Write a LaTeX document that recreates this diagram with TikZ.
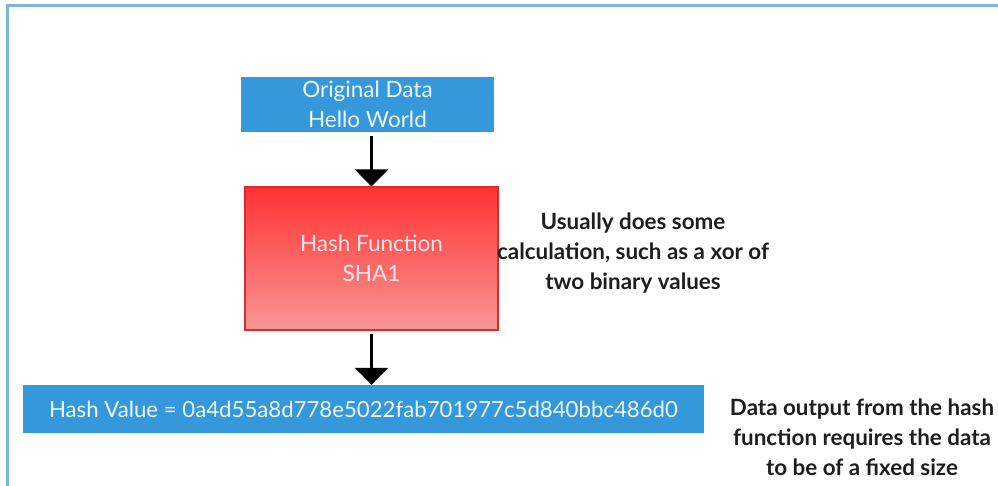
\documentclass[tikz,border=0pt]{standalone}
\usepackage{fontspec}
\setmainfont{Lato}
\usetikzlibrary{arrows.meta}

\definecolor{boxblue}{RGB}{52,152,219}
\definecolor{frameblue}{RGB}{126,179,218}
\definecolor{hashtop}{RGB}{255,50,50}
\definecolor{hashbot}{RGB}{248,150,150}
\definecolor{hashline}{RGB}{214,45,45}
\definecolor{notegray}{RGB}{30,30,30}

\begin{document}
\begin{tikzpicture}
  [x=1pt, y=-1pt,
   font=\fontsize{22.5}{30}\selectfont,
   bluebox/.style={rectangle, fill=boxblue, text=white!92!boxblue, align=center, inner sep=0pt},
   hashbox/.style={rectangle, top color=hashtop, bottom color=hashbot, draw=hashline, line width=1.2pt,
                   text=white!88!hashtop, align=center, minimum width=253pt, minimum height=143pt},
   note/.style={align=center, text=notegray, font=\fontsize{22.4}{30}\selectfont\bfseries},
   flow/.style={line width=3pt, -{Triangle[width=33pt, length=17pt]}}]

  \useasboundingbox (0,0) rectangle (998,486);
  \draw[frameblue, line width=2.5pt] (7.5,490) -- (7.5,5.5) -- (1002,5.5);

  \node[bluebox, minimum width=253pt, minimum height=55pt] (data) at (367.5,104.5) {Original Data\\Hello World};
  \node[hashbox] (hash) at (371.5,258.5) {Hash Function\\SHA1};
  \node[bluebox, minimum width=681pt, minimum height=48pt, font=\fontsize{22.2}{30}\selectfont] (value) at (363.5,409)
    {Hash Value = 0a4d55a8d778e5022fab701977c5d840bbc486d0};

  \draw[flow, shorten <=4pt] (hash.north |- data.south) -- (hash.north);
  \draw[flow, shorten <=3pt] (hash.south) -- (hash.south |- value.north);

  \node[note] (calc) at (633,253) {Usually does some\\calculation, such as a xor of\\two binary values};
  \node[note] (size) at (862,437) {Data output from the hash\\function requires the data\\to be of a fixed size};
\end{tikzpicture}
\end{document}
